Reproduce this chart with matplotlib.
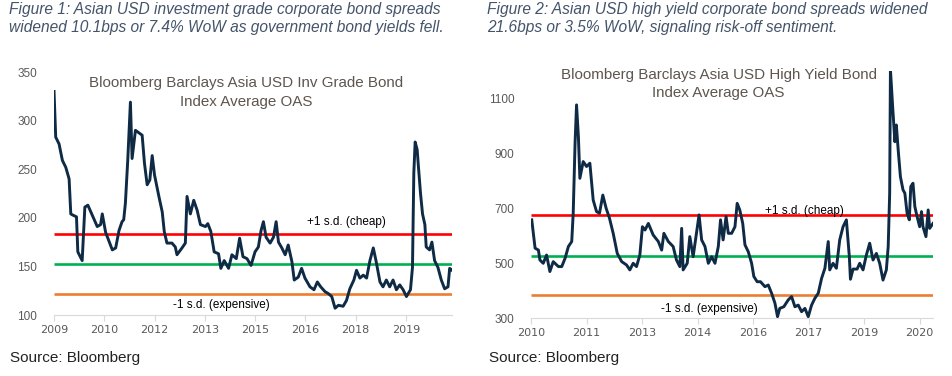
import matplotlib.pyplot as plt

plt.rcParams['font.family'] = ['Liberation Sans', 'DejaVu Sans']

# Figure 1 - investment grade OAS (bps), x in fractional years
ig_t = [2009.00, 2009.05, 2009.15, 2009.25, 2009.35, 2009.45, 2009.50, 2009.55, 2009.67, 2009.71,
        2009.84, 2009.92, 2010.01, 2010.29, 2010.39, 2010.44, 2010.54, 2010.74, 2010.84, 2010.94,
        2011.03, 2011.08, 2011.13, 2011.20, 2011.28, 2011.33, 2011.43, 2011.63, 2011.70, 2011.78,
        2011.86, 2011.93, 2012.00, 2012.13, 2012.23, 2012.29, 2012.37, 2012.52, 2012.62, 2012.67,
        2012.82, 2012.92, 2012.97, 2013.07, 2013.17, 2013.27, 2013.37, 2013.52, 2013.59, 2013.68,
        2013.78, 2013.91, 2013.98, 2014.08, 2014.21, 2014.31, 2014.44, 2014.54, 2014.64, 2014.76,
        2014.88, 2015.00, 2015.10, 2015.18, 2015.25, 2015.33, 2015.45, 2015.55, 2015.63, 2015.70,
        2015.80, 2015.90, 2015.99, 2016.10, 2016.17, 2016.29, 2016.39, 2016.49, 2016.64, 2016.76,
        2016.86, 2016.96, 2017.09, 2017.19, 2017.29, 2017.39, 2017.49, 2017.63, 2017.73, 2017.83,
        2017.95, 2018.03, 2018.13, 2018.23, 2018.33, 2018.43, 2018.53, 2018.61, 2018.73, 2018.82,
        2018.92, 2019.02, 2019.12, 2019.22, 2019.32, 2019.42, 2019.52, 2019.64, 2019.70, 2019.74,
        2019.78, 2019.84, 2019.87, 2019.94, 2020.00, 2020.07, 2020.11, 2020.21, 2020.28, 2020.36,
        2020.46, 2020.56, 2020.66, 2020.76, 2020.81, 2020.88]
ig_oas = [330, 283, 276, 259, 252, 240, 204, 203, 201, 165,
          156, 211, 213, 191, 193, 204, 185, 167, 169, 187,
          196, 198, 215, 259, 319, 261, 290, 285, 256, 234,
          239, 264, 244, 222, 206, 186, 174, 174, 170, 162,
          169, 174, 222, 204, 218, 208, 193, 191, 194, 186,
          165, 163, 148, 156, 148, 162, 158, 179, 160, 158,
          151, 165, 170, 187, 196, 180, 174, 180, 196, 175,
          169, 162, 172, 155, 136, 139, 148, 138, 129, 126,
          134, 129, 124, 122, 119, 107, 110, 109, 115, 127,
          136, 146, 138, 141, 138, 156, 169, 156, 134, 129,
          136, 129, 136, 126, 131, 126, 119, 126, 149, 246,
          278, 270, 256, 225, 204, 193, 170, 167, 175, 156,
          149, 136, 127, 129, 148, 146]
ig_lines = [183, 152, 121.5]   # +1 s.d., mean, -1 s.d.
ig_ticks = ['2009', '2010', '2012', '2013', '2015', '2016', '2018', '2019']

# Figure 2 - high yield OAS (bps)
hy_t = [2010.02, 2010.11, 2010.20, 2010.24, 2010.33, 2010.42, 2010.51, 2010.60, 2010.74, 2010.83,
        2010.92, 2011.01, 2011.10, 2011.14, 2011.19, 2011.23, 2011.28, 2011.32, 2011.41, 2011.50,
        2011.59, 2011.68, 2011.77, 2011.85, 2011.94, 2012.03, 2012.12, 2012.22, 2012.33, 2012.45,
        2012.58, 2012.67, 2012.76, 2012.85, 2012.94, 2013.01, 2013.08, 2013.17, 2013.30, 2013.44,
        2013.53, 2013.59, 2013.71, 2013.84, 2013.93, 2014.02, 2014.07, 2014.11, 2014.22, 2014.29,
        2014.38, 2014.47, 2014.54, 2014.61, 2014.70, 2014.79, 2014.88, 2014.97, 2015.06, 2015.12,
        2015.19, 2015.27, 2015.33, 2015.42, 2015.51, 2015.57, 2015.64, 2015.72, 2015.78, 2015.87,
        2015.96, 2016.02, 2016.11, 2016.20, 2016.32, 2016.41, 2016.50, 2016.59, 2016.66, 2016.72,
        2016.83, 2016.95, 2017.04, 2017.13, 2017.22, 2017.31, 2017.40, 2017.49, 2017.58, 2017.67,
        2017.76, 2017.85, 2017.94, 2018.03, 2018.07, 2018.16, 2018.25, 2018.34, 2018.43, 2018.52,
        2018.60, 2018.63, 2018.70, 2018.81, 2018.88, 2018.97, 2019.06, 2019.15, 2019.24, 2019.33,
        2019.42, 2019.51, 2019.60, 2019.65, 2019.69, 2019.71, 2019.77, 2019.83, 2019.87, 2019.92,
        2019.98, 2020.05, 2020.10, 2020.16, 2020.22, 2020.26, 2020.32, 2020.37, 2020.43, 2020.50,
        2020.55, 2020.59, 2020.67, 2020.73, 2020.77, 2020.86]
hy_oas = [658, 555, 548, 512, 500, 530, 470, 506, 488, 488,
          518, 561, 579, 682, 936, 1076, 961, 809, 870, 852,
          864, 730, 688, 682, 748, 700, 664, 609, 536, 506,
          494, 476, 500, 488, 530, 633, 621, 645, 603, 579,
          548, 609, 579, 561, 512, 488, 627, 476, 500, 597,
          524, 609, 676, 585, 561, 500, 524, 500, 561, 658,
          585, 670, 609, 609, 633, 718, 694, 645, 567, 542,
          500, 452, 433, 433, 415, 421, 391, 355, 306, 336,
          342, 367, 379, 342, 348, 324, 336, 306, 348, 373,
          391, 445, 482, 579, 476, 500, 482, 585, 633, 658,
          524, 442, 479, 479, 500, 476, 530, 573, 512, 536,
          500, 439, 476, 561, 755, 1205, 1070, 942, 1003, 912,
          815, 767, 755, 682, 658, 779, 791, 706, 670, 633,
          688, 633, 597, 694, 627, 645]
hy_lines = [675, 527, 384]
hy_ticks = ['2010', '2011', '2013', '2014', '2016', '2017', '2019', '2020']

navy = '#0e2a45'
line_cols = ['#ff0000', '#00b050', '#ed7d31']
grey = '#595959'

fig = plt.figure(figsize=(9.53, 3.76), dpi=100)


def panel(rect, t, oas, lines, start, ticklabels, yticks, ylim, title, title_y,
          cheap_xy, exp_xy):
    ax = fig.add_axes(rect)
    x0, x1 = start, t[-1]
    for v, c in zip(lines, line_cols):
        ax.plot([x0, x1], [v, v], color=c, lw=1.9, solid_capstyle='butt', zorder=2)
    ax.plot(t, oas, color=navy, lw=2.1, zorder=3, solid_joinstyle='round')
    ax.set_xlim(x0, x1)
    ax.set_ylim(*ylim)
    ax.set_xticks([start + 1.5 * i for i in range(len(ticklabels))])
    ax.set_xticklabels(ticklabels, fontsize=8, color=grey,
                       family=['Liberation Sans Narrow', 'DejaVu Sans'])
    ax.set_yticks(yticks)
    ax.tick_params(axis='y', length=0, labelsize=8.5, labelcolor=grey, pad=12)
    ax.tick_params(axis='x', length=4, color='#d9d9d9', pad=3)
    for s in ['left', 'right', 'top']:
        ax.spines[s].set_visible(False)
    ax.spines['bottom'].set_color('#d9d9d9')
    ax.text(*cheap_xy, '+1 s.d. (cheap)', fontsize=8.5, ha='center', va='center')
    ax.text(*exp_xy, '-1 s.d. (expensive)', fontsize=8.5, ha='center', va='center')
    fig.text(title[0], title_y, title[1], fontsize=10.9, color='#5e554d',
             ha='center', va='top', linespacing=1.4)
    return ax


ax1 = panel([0.0567, 0.1622, 0.4176, 0.6463], ig_t, ig_oas, ig_lines, 2009.0,
            ig_ticks, range(100, 351, 50), (100, 350),
            (0.258, 'Bloomberg Barclays Asia USD Inv Grade Bond\nIndex Average OAS'), 0.797,
            (2017.72, 195.5), (2014.0, 110.3))
ax2 = panel([0.5572, 0.1535, 0.4218, 0.6582], hy_t, hy_oas, hy_lines, 2010.0,
            hy_ticks, range(300, 1101, 200), (300, 1200),
            (0.754, 'Bloomberg Barclays Asia USD High Yield Bond\nIndex Average OAS'), 0.819,
            (2017.39, 691), (2014.81, 333))

cap = '#44546a'
fig.text(0.009, 0.995, 'Figure 1: Asian USD investment grade corporate bond spreads\n'
         'widened 10.1bps or 7.4% WoW as government bond yields fell.',
         fontsize=11.2, style='italic', color=cap, va='top', linespacing=1.3)
fig.text(0.511, 0.995, 'Figure 2: Asian USD high yield corporate bond spreads widened\n'
         '21.6bps or 3.5% WoW, signaling risk-off sentiment.',
         fontsize=11.2, style='italic', color=cap, va='top', linespacing=1.3)
fig.text(0.010, 0.047, 'Source: Bloomberg', fontsize=11, color='#222222', va='center')
fig.text(0.513, 0.047, 'Source: Bloomberg', fontsize=11, color='#222222', va='center')

fig.savefig('out.png', dpi=100)
